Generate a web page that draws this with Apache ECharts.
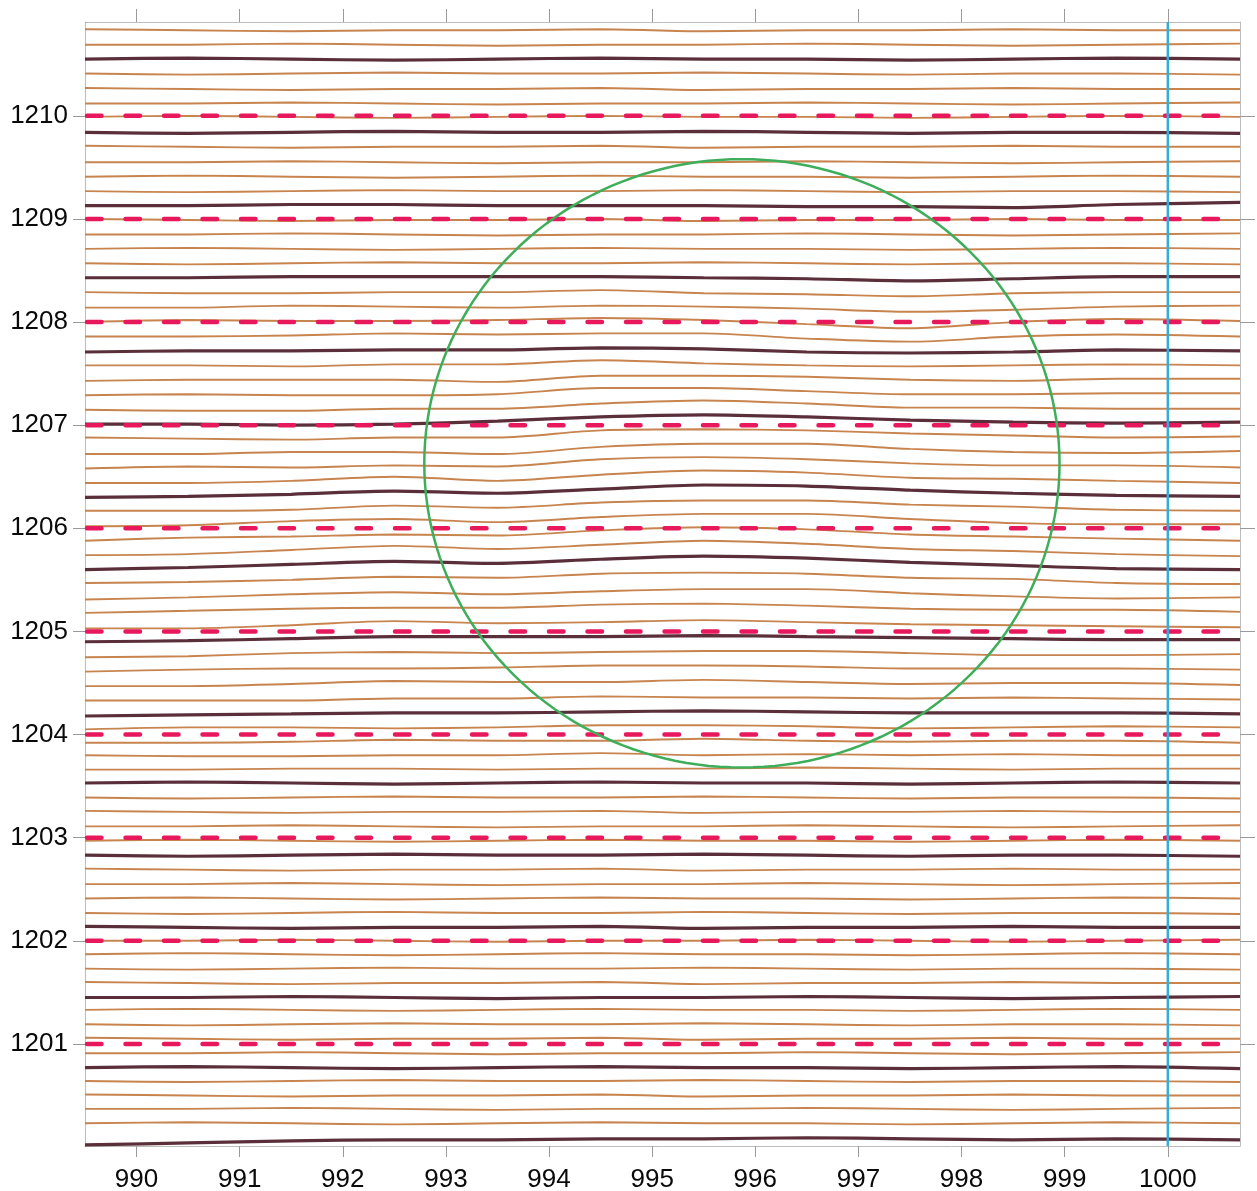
<!DOCTYPE html>
<html>
<head>
<meta charset="utf-8">
<script src="https://cdn.jsdelivr.net/npm/echarts@6/dist/echarts.min.js"></script>
<style>
html,body{margin:0;padding:0;background:#fff;}
#chart{width:1257px;height:1191px;}
</style>
</head>
<body>
<div id="chart"></div>
<script>
// ---- data ----
const xSamples = [989.5, 990.5, 991.5, 992.5, 993.5, 994.5, 995.5, 996.5, 997.5, 998.5, 999.5, 1000.7];
const xTickValues = [990, 991, 992, 993, 994, 995, 996, 997, 998, 999, 1000];
const yTickValues = [1201, 1202, 1203, 1204, 1205, 1206, 1207, 1208, 1209, 1210];
const xRange = [989.5, 1000.7];
const yRange = [1200.01, 1210.91];

// contour lines, grouped in bands; first row of each band is the index (thick) contour
const band00 = [
  [1200.02, 1200.04, 1200.06, 1200.07, 1200.07, 1200.08, 1200.08, 1200.09, 1200.08, 1200.07, 1200.08, 1200.07],
  [1200.23, 1200.24, 1200.23, 1200.22, 1200.23, 1200.24, 1200.23, 1200.23, 1200.22, 1200.23, 1200.24, 1200.23],
  [1200.37, 1200.37, 1200.38, 1200.37, 1200.36, 1200.37, 1200.37, 1200.38, 1200.37, 1200.36, 1200.37, 1200.38],
  [1200.51, 1200.50, 1200.49, 1200.50, 1200.50, 1200.51, 1200.49, 1200.50, 1200.50, 1200.51, 1200.50, 1200.50],
  [1200.64, 1200.63, 1200.64, 1200.65, 1200.64, 1200.64, 1200.65, 1200.64, 1200.63, 1200.64, 1200.64, 1200.63]
];
const band01 = [
  [1200.77, 1200.78, 1200.77, 1200.76, 1200.77, 1200.78, 1200.77, 1200.77, 1200.76, 1200.77, 1200.78, 1200.76],
  [1200.91, 1200.91, 1200.92, 1200.91, 1200.90, 1200.91, 1200.91, 1200.92, 1200.91, 1200.90, 1200.91, 1200.92],
  [1201.06, 1201.05, 1201.04, 1201.05, 1201.05, 1201.06, 1201.04, 1201.05, 1201.05, 1201.06, 1201.05, 1201.05],
  [1201.19, 1201.18, 1201.19, 1201.20, 1201.19, 1201.19, 1201.20, 1201.19, 1201.18, 1201.19, 1201.19, 1201.18],
  [1201.33, 1201.34, 1201.33, 1201.32, 1201.33, 1201.34, 1201.33, 1201.33, 1201.32, 1201.33, 1201.34, 1201.33]
];
const band02 = [
  [1201.45, 1201.45, 1201.46, 1201.45, 1201.44, 1201.45, 1201.45, 1201.46, 1201.45, 1201.44, 1201.45, 1201.46],
  [1201.60, 1201.59, 1201.58, 1201.59, 1201.59, 1201.60, 1201.58, 1201.59, 1201.59, 1201.60, 1201.59, 1201.59],
  [1201.73, 1201.72, 1201.73, 1201.74, 1201.73, 1201.73, 1201.74, 1201.73, 1201.72, 1201.73, 1201.73, 1201.72],
  [1201.87, 1201.88, 1201.87, 1201.86, 1201.87, 1201.88, 1201.87, 1201.87, 1201.86, 1201.87, 1201.88, 1201.87],
  [1202.00, 1202.00, 1202.01, 1202.00, 1201.99, 1202.00, 1202.00, 1202.01, 1202.00, 1201.99, 1202.00, 1202.01]
];
const band03 = [
  [1202.14, 1202.13, 1202.12, 1202.13, 1202.13, 1202.14, 1202.12, 1202.13, 1202.13, 1202.14, 1202.13, 1202.13],
  [1202.27, 1202.26, 1202.27, 1202.28, 1202.27, 1202.27, 1202.28, 1202.27, 1202.26, 1202.27, 1202.27, 1202.26],
  [1202.41, 1202.42, 1202.41, 1202.40, 1202.41, 1202.42, 1202.41, 1202.41, 1202.40, 1202.41, 1202.42, 1202.41],
  [1202.55, 1202.55, 1202.56, 1202.55, 1202.54, 1202.55, 1202.55, 1202.56, 1202.55, 1202.54, 1202.55, 1202.56],
  [1202.70, 1202.69, 1202.68, 1202.69, 1202.69, 1202.70, 1202.68, 1202.69, 1202.69, 1202.70, 1202.69, 1202.69]
];
const band04 = [
  [1202.83, 1202.82, 1202.83, 1202.84, 1202.83, 1202.83, 1202.84, 1202.83, 1202.82, 1202.83, 1202.83, 1202.82],
  [1202.97, 1202.98, 1202.97, 1202.96, 1202.97, 1202.98, 1202.97, 1202.97, 1202.96, 1202.97, 1202.98, 1202.97],
  [1203.11, 1203.11, 1203.12, 1203.11, 1203.10, 1203.11, 1203.11, 1203.12, 1203.11, 1203.10, 1203.11, 1203.12],
  [1203.26, 1203.25, 1203.24, 1203.25, 1203.25, 1203.26, 1203.24, 1203.25, 1203.25, 1203.26, 1203.25, 1203.25],
  [1203.39, 1203.38, 1203.39, 1203.40, 1203.39, 1203.39, 1203.40, 1203.39, 1203.38, 1203.39, 1203.39, 1203.38]
];
const band05 = [
  [1203.53, 1203.54, 1203.53, 1203.52, 1203.53, 1203.54, 1203.53, 1203.53, 1203.52, 1203.53, 1203.54, 1203.53],
  [1203.66, 1203.66, 1203.67, 1203.67, 1203.66, 1203.67, 1203.67, 1203.68, 1203.67, 1203.66, 1203.67, 1203.67],
  [1203.80, 1203.79, 1203.79, 1203.80, 1203.80, 1203.82, 1203.80, 1203.81, 1203.80, 1203.81, 1203.80, 1203.80],
  [1203.92, 1203.92, 1203.93, 1203.95, 1203.94, 1203.94, 1203.96, 1203.94, 1203.93, 1203.94, 1203.94, 1203.92],
  [1204.05, 1204.07, 1204.07, 1204.06, 1204.07, 1204.09, 1204.09, 1204.08, 1204.06, 1204.07, 1204.08, 1204.07]
];
const band06 = [
  [1204.18, 1204.19, 1204.20, 1204.21, 1204.21, 1204.22, 1204.23, 1204.22, 1204.21, 1204.21, 1204.21, 1204.20],
  [1204.33, 1204.33, 1204.33, 1204.35, 1204.35, 1204.37, 1204.36, 1204.36, 1204.35, 1204.36, 1204.35, 1204.34],
  [1204.47, 1204.47, 1204.49, 1204.52, 1204.51, 1204.51, 1204.53, 1204.51, 1204.49, 1204.50, 1204.50, 1204.48],
  [1204.61, 1204.63, 1204.64, 1204.64, 1204.65, 1204.67, 1204.67, 1204.66, 1204.64, 1204.64, 1204.64, 1204.63],
  [1204.75, 1204.76, 1204.79, 1204.80, 1204.79, 1204.80, 1204.81, 1204.81, 1204.79, 1204.77, 1204.77, 1204.78]
];
const band07 = [
  [1204.90, 1204.91, 1204.93, 1204.95, 1204.95, 1204.95, 1204.96, 1204.95, 1204.94, 1204.93, 1204.92, 1204.92],
  [1205.03, 1205.03, 1205.06, 1205.10, 1205.08, 1205.09, 1205.11, 1205.09, 1205.07, 1205.06, 1205.05, 1205.04],
  [1205.18, 1205.20, 1205.22, 1205.23, 1205.23, 1205.26, 1205.27, 1205.25, 1205.22, 1205.21, 1205.21, 1205.19],
  [1205.31, 1205.33, 1205.36, 1205.38, 1205.36, 1205.39, 1205.41, 1205.41, 1205.37, 1205.34, 1205.32, 1205.33],
  [1205.47, 1205.48, 1205.50, 1205.53, 1205.52, 1205.56, 1205.57, 1205.56, 1205.52, 1205.51, 1205.47, 1205.46]
];
const band08 = [
  [1205.60, 1205.62, 1205.65, 1205.68, 1205.66, 1205.70, 1205.73, 1205.71, 1205.67, 1205.64, 1205.61, 1205.60],
  [1205.74, 1205.75, 1205.79, 1205.83, 1205.80, 1205.84, 1205.88, 1205.85, 1205.80, 1205.78, 1205.75, 1205.73],
  [1205.88, 1205.91, 1205.92, 1205.94, 1205.93, 1205.98, 1206.01, 1205.99, 1205.94, 1205.92, 1205.90, 1205.88],
  [1206.02, 1206.03, 1206.07, 1206.09, 1206.06, 1206.11, 1206.14, 1206.14, 1206.09, 1206.05, 1206.04, 1206.04],
  [1206.17, 1206.17, 1206.18, 1206.22, 1206.20, 1206.25, 1206.27, 1206.27, 1206.23, 1206.21, 1206.18, 1206.17]
];
const band09 = [
  [1206.30, 1206.31, 1206.33, 1206.36, 1206.34, 1206.38, 1206.42, 1206.41, 1206.37, 1206.34, 1206.32, 1206.31],
  [1206.44, 1206.44, 1206.46, 1206.50, 1206.46, 1206.52, 1206.56, 1206.54, 1206.49, 1206.48, 1206.46, 1206.44],
  [1206.58, 1206.60, 1206.59, 1206.61, 1206.60, 1206.67, 1206.69, 1206.67, 1206.63, 1206.61, 1206.61, 1206.59],
  [1206.72, 1206.72, 1206.74, 1206.74, 1206.72, 1206.79, 1206.82, 1206.82, 1206.77, 1206.74, 1206.73, 1206.75],
  [1206.88, 1206.87, 1206.86, 1206.88, 1206.88, 1206.95, 1206.96, 1206.95, 1206.92, 1206.90, 1206.88, 1206.89]
];
const band10 = [
  [1207.01, 1207.01, 1207.00, 1207.01, 1207.04, 1207.08, 1207.10, 1207.08, 1207.05, 1207.03, 1207.02, 1207.03],
  [1207.15, 1207.14, 1207.14, 1207.16, 1207.16, 1207.21, 1207.24, 1207.21, 1207.17, 1207.17, 1207.16, 1207.16],
  [1207.29, 1207.30, 1207.29, 1207.29, 1207.30, 1207.36, 1207.36, 1207.33, 1207.30, 1207.30, 1207.31, 1207.31],
  [1207.43, 1207.44, 1207.44, 1207.44, 1207.42, 1207.48, 1207.48, 1207.47, 1207.44, 1207.43, 1207.45, 1207.45],
  [1207.58, 1207.58, 1207.57, 1207.59, 1207.59, 1207.63, 1207.60, 1207.58, 1207.57, 1207.58, 1207.59, 1207.58]
];
const band11 = [
  [1207.71, 1207.72, 1207.72, 1207.73, 1207.73, 1207.75, 1207.74, 1207.71, 1207.70, 1207.71, 1207.73, 1207.72],
  [1207.86, 1207.86, 1207.87, 1207.89, 1207.88, 1207.89, 1207.89, 1207.84, 1207.81, 1207.86, 1207.88, 1207.86],
  [1208.00, 1208.02, 1208.01, 1208.01, 1208.02, 1208.04, 1208.02, 1207.98, 1207.94, 1208.00, 1208.03, 1208.01],
  [1208.14, 1208.14, 1208.16, 1208.15, 1208.14, 1208.16, 1208.15, 1208.13, 1208.10, 1208.12, 1208.15, 1208.16],
  [1208.29, 1208.28, 1208.28, 1208.29, 1208.29, 1208.31, 1208.28, 1208.27, 1208.25, 1208.28, 1208.29, 1208.29]
];
const band12 = [
  [1208.43, 1208.43, 1208.44, 1208.44, 1208.44, 1208.44, 1208.43, 1208.42, 1208.40, 1208.42, 1208.44, 1208.44],
  [1208.57, 1208.56, 1208.57, 1208.58, 1208.57, 1208.57, 1208.58, 1208.57, 1208.56, 1208.57, 1208.57, 1208.56],
  [1208.71, 1208.72, 1208.71, 1208.70, 1208.71, 1208.72, 1208.71, 1208.71, 1208.70, 1208.71, 1208.72, 1208.71],
  [1208.85, 1208.85, 1208.86, 1208.85, 1208.84, 1208.85, 1208.85, 1208.86, 1208.85, 1208.84, 1208.85, 1208.86],
  [1209.00, 1208.99, 1208.98, 1208.99, 1208.99, 1209.00, 1208.98, 1208.99, 1208.99, 1209.00, 1208.99, 1208.99]
];
const band13 = [
  [1209.13, 1209.13, 1209.14, 1209.14, 1209.13, 1209.13, 1209.13, 1209.12, 1209.12, 1209.11, 1209.14, 1209.16],
  [1209.27, 1209.26, 1209.27, 1209.28, 1209.27, 1209.27, 1209.28, 1209.27, 1209.26, 1209.27, 1209.27, 1209.26],
  [1209.41, 1209.42, 1209.41, 1209.40, 1209.41, 1209.42, 1209.41, 1209.41, 1209.40, 1209.41, 1209.42, 1209.41],
  [1209.55, 1209.55, 1209.56, 1209.55, 1209.54, 1209.55, 1209.55, 1209.56, 1209.55, 1209.54, 1209.55, 1209.56],
  [1209.71, 1209.70, 1209.69, 1209.70, 1209.70, 1209.71, 1209.69, 1209.70, 1209.70, 1209.71, 1209.70, 1209.70]
];
const band14 = [
  [1209.84, 1209.83, 1209.84, 1209.85, 1209.84, 1209.84, 1209.85, 1209.84, 1209.83, 1209.84, 1209.84, 1209.83],
  [1209.99, 1210.00, 1209.99, 1209.98, 1209.99, 1210.00, 1209.99, 1209.99, 1209.98, 1209.99, 1210.00, 1209.99],
  [1210.12, 1210.12, 1210.13, 1210.12, 1210.11, 1210.12, 1210.12, 1210.13, 1210.12, 1210.11, 1210.12, 1210.13],
  [1210.27, 1210.26, 1210.25, 1210.26, 1210.26, 1210.27, 1210.25, 1210.26, 1210.26, 1210.27, 1210.26, 1210.26],
  [1210.41, 1210.40, 1210.41, 1210.42, 1210.41, 1210.41, 1210.42, 1210.41, 1210.40, 1210.41, 1210.41, 1210.40]
];
const band15 = [
  [1210.55, 1210.56, 1210.55, 1210.54, 1210.55, 1210.56, 1210.55, 1210.55, 1210.54, 1210.55, 1210.56, 1210.55],
  [1210.69, 1210.69, 1210.70, 1210.69, 1210.68, 1210.69, 1210.69, 1210.70, 1210.69, 1210.68, 1210.69, 1210.70],
  [1210.84, 1210.83, 1210.82, 1210.83, 1210.83, 1210.84, 1210.82, 1210.83, 1210.83, 1210.84, 1210.83, 1210.83]
];

// dashed reference levels
const guideLevels = [1201, 1202, 1203, 1204, 1205, 1206, 1207, 1208, 1209, 1210];
const guideXExtent = [989.5, 1000.5];
// vertical marker
const markerX = 1000;
// ring annotation
const circleCenter = [995.87, 1206.63];
const circleRadii = [3.08, 2.95];

// ---- build chart ----
const bands = [band00, band01, band02, band03, band04, band05, band06, band07,
               band08, band09, band10, band11, band12, band13, band14, band15];
const series = [];
bands.forEach(band => {
  band.forEach((row, j) => {
    const thick = j === 0;
    series.push({
      type: 'line',
      xAxisIndex: 0, yAxisIndex: 0,
      data: row.map((y, k) => [xSamples[k], y]),
      symbol: 'none', smooth: 0.3, silent: true,
      z: thick ? 3 : 2,
      lineStyle: { color: thick ? '#5a2f3a' : '#c8844f', width: thick ? 3.2 : 1.9 }
    });
  });
});
guideLevels.forEach(v => {
  series.push({
    type: 'line', xAxisIndex: 0, yAxisIndex: 0,
    data: [[guideXExtent[0], v], [guideXExtent[1], v]],
    symbol: 'none', silent: true, z: 5,
    lineStyle: { color: '#e8185c', width: 4.5, type: [14.5, 24], dashOffset: -2, cap: 'round' }
  });
});
const ring = [];
const nSeg = 180;
for (let k = 0; k <= nSeg; k++) {
  const t = 2 * Math.PI * k / nSeg;
  ring.push([circleCenter[0] + circleRadii[0] * Math.cos(t), circleCenter[1] + circleRadii[1] * Math.sin(t)]);
}
series.push({
  type: 'line', xAxisIndex: 0, yAxisIndex: 0, data: ring,
  symbol: 'none', silent: true, z: 6,
  lineStyle: { color: '#3fae5b', width: 2.5 }
});
series.push({
  type: 'line', xAxisIndex: 0, yAxisIndex: 0,
  data: [[markerX, yRange[0]], [markerX, yRange[1]]],
  symbol: 'none', silent: true, z: 7,
  lineStyle: { color: '#36acd9', width: 2.5 }
});

const font = 'Liberation Sans, Arial, sans-serif';
const axisLineStyle = { color: '#bcbcbc', width: 1 };
const tickStyle = { color: '#9a9a9a', width: 1 };
const plainNumber = v => String(Math.round(v));

const option = {
  animation: false,
  backgroundColor: '#ffffff',
  grid: { left: 85, right: 17, top: 22, bottom: 45, containLabel: false, outerBoundsMode: 'none' },
  xAxis: [
    {
      type: 'value', position: 'bottom', min: xRange[0], max: xRange[1],
      axisLine: { show: true, lineStyle: axisLineStyle },
      axisTick: { show: true, inside: false, length: 11, lineStyle: tickStyle, customValues: xTickValues },
      axisLabel: { show: true, margin: 21, fontSize: 26, color: '#0a0a0a', fontFamily: font, customValues: xTickValues, formatter: plainNumber },
      splitLine: { show: false }
    },
    {
      type: 'value', position: 'top', min: xRange[0], max: xRange[1],
      axisLine: { show: true, lineStyle: axisLineStyle },
      axisTick: { show: true, inside: false, length: 13, lineStyle: tickStyle, customValues: xTickValues },
      axisLabel: { show: false },
      splitLine: { show: false }
    }
  ],
  yAxis: [
    {
      type: 'value', position: 'left', min: yRange[0], max: yRange[1],
      axisLine: { show: true, lineStyle: axisLineStyle },
      axisTick: { show: true, inside: false, length: 12, lineStyle: tickStyle, customValues: yTickValues },
      axisLabel: { show: true, margin: 17, fontSize: 26, color: '#0a0a0a', fontFamily: font, customValues: yTickValues, formatter: plainNumber },
      splitLine: { show: false }
    },
    {
      type: 'value', position: 'right', min: yRange[0], max: yRange[1],
      axisLine: { show: true, lineStyle: axisLineStyle },
      axisTick: { show: true, inside: false, length: 15, lineStyle: tickStyle, customValues: yTickValues },
      axisLabel: { show: false },
      splitLine: { show: false }
    }
  ],
  series: series
};

const chart = echarts.init(document.getElementById('chart'), null, { renderer: 'canvas' });
chart.setOption(option);
</script>
</body>
</html>
